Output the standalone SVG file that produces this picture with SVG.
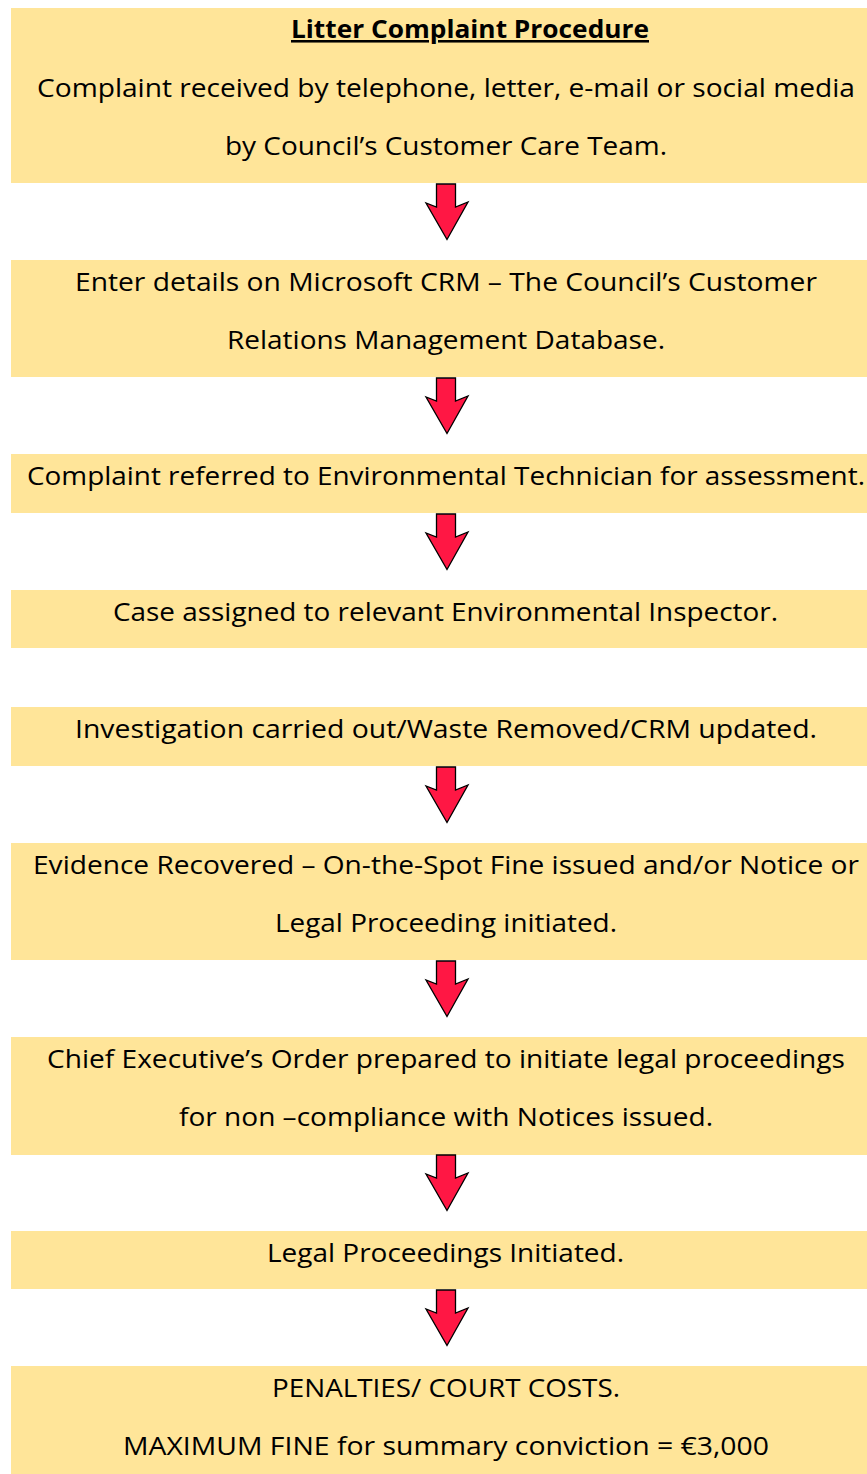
<svg xmlns="http://www.w3.org/2000/svg" width="867" height="1474" viewBox="0 0 867 1474">
<style>
.box{fill:#FFE599;}
.t{font-family:"Open Sans","Noto Sans","Liberation Sans",sans-serif;font-size:25.5px;fill:#000;text-anchor:middle;}
.title{font-weight:bold;text-decoration:underline;}
.arrow{fill:#FF1744;stroke:#000;stroke-width:1.3;stroke-linejoin:miter;}
</style>
<defs>
<polygon id="arr" points="436.5,0 455.5,0 455.5,23 468,18 447,55.5 426,19 436.5,23"/>
</defs>
<rect x="0" y="0" width="867" height="1474" fill="#fff"/>
<g id="n1">
<rect class="box" x="11" y="8" width="870" height="175"/>
<text class="t title" x="470" y="38" textLength="358" lengthAdjust="spacingAndGlyphs">Litter Complaint Procedure</text>
<text class="t" x="446" y="97" textLength="818" lengthAdjust="spacingAndGlyphs">Complaint received by telephone, letter, e-mail or social media</text>
<text class="t" x="446" y="155" textLength="442" lengthAdjust="spacingAndGlyphs">by Council’s Customer Care Team.</text>
</g>
<g id="n2">
<rect class="box" x="11" y="260" width="870" height="117"/>
<text class="t" x="446" y="291" textLength="742" lengthAdjust="spacingAndGlyphs">Enter details on Microsoft CRM – The Council’s Customer</text>
<text class="t" x="446" y="349" textLength="438" lengthAdjust="spacingAndGlyphs">Relations Management Database.</text>
</g>
<g id="n3">
<rect class="box" x="11" y="454" width="870" height="59"/>
<text class="t" x="446" y="485" textLength="838" lengthAdjust="spacingAndGlyphs">Complaint referred to Environmental Technician for assessment.</text>
</g>
<g id="n4">
<rect class="box" x="11" y="590" width="870" height="58"/>
<text class="t" x="445.5" y="621" textLength="665" lengthAdjust="spacingAndGlyphs">Case assigned to relevant Environmental Inspector.</text>
</g>
<g id="n5">
<rect class="box" x="11" y="707" width="870" height="59"/>
<text class="t" x="446" y="738" textLength="742" lengthAdjust="spacingAndGlyphs">Investigation carried out/Waste Removed/CRM updated.</text>
</g>
<g id="n6">
<rect class="box" x="11" y="843" width="870" height="117"/>
<text class="t" x="446" y="874" textLength="826" lengthAdjust="spacingAndGlyphs">Evidence Recovered – On-the-Spot Fine issued and/or Notice or</text>
<text class="t" x="446" y="932" textLength="342" lengthAdjust="spacingAndGlyphs">Legal Proceeding initiated.</text>
</g>
<g id="n7">
<rect class="box" x="11" y="1037" width="870" height="118"/>
<text class="t" x="446" y="1068" textLength="798" lengthAdjust="spacingAndGlyphs">Chief Executive’s Order prepared to initiate legal proceedings</text>
<text class="t" x="446" y="1126" textLength="534" lengthAdjust="spacingAndGlyphs">for non –compliance with Notices issued.</text>
</g>
<g id="n8">
<rect class="box" x="11" y="1231" width="870" height="58"/>
<text class="t" x="445.5" y="1262" textLength="357" lengthAdjust="spacingAndGlyphs">Legal Proceedings Initiated.</text>
</g>
<g id="n9">
<rect class="box" x="11" y="1366" width="870" height="120"/>
<text class="t" x="446" y="1397" textLength="348" lengthAdjust="spacingAndGlyphs">PENALTIES/ COURT COSTS.</text>
<text class="t" x="446" y="1455" textLength="646" lengthAdjust="spacingAndGlyphs">MAXIMUM FINE for summary conviction = €3,000</text>
</g>
<g id="connectors">
<use href="#arr" class="arrow" transform="translate(0,184)"/>
<use href="#arr" class="arrow" transform="translate(0,378)"/>
<use href="#arr" class="arrow" transform="translate(0,514)"/>
<use href="#arr" class="arrow" transform="translate(0,767)"/>
<use href="#arr" class="arrow" transform="translate(0,961)"/>
<use href="#arr" class="arrow" transform="translate(0,1155)"/>
<use href="#arr" class="arrow" transform="translate(0,1290)"/>
</g>
</svg>
